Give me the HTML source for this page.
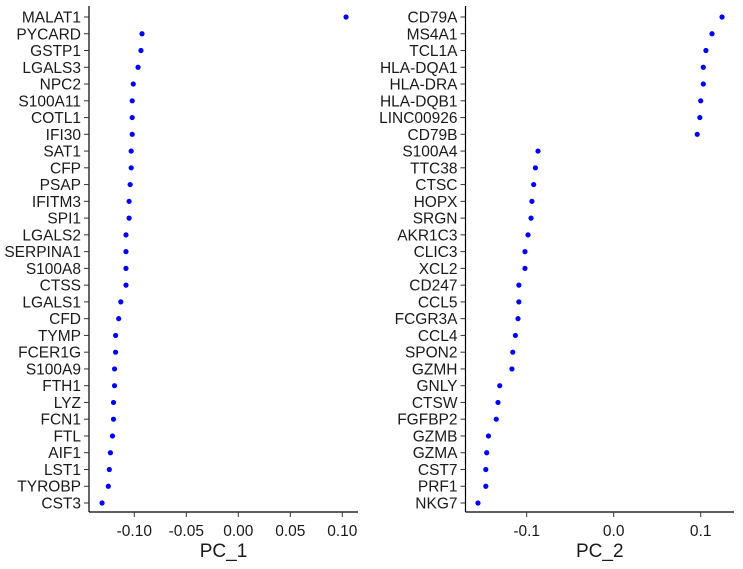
<!DOCTYPE html>
<html><head><meta charset="utf-8"><style>
body{margin:0;background:#fff}
svg text{font-family:"Liberation Sans",Arial,sans-serif;fill:#1a1a1a}
</style></head><body>
<svg id="chart" width="743" height="564" xmlns="http://www.w3.org/2000/svg"></svg>
<script>
const genes1=["MALAT1","PYCARD","GSTP1","LGALS3","NPC2","S100A11","COTL1","IFI30","SAT1","CFP","PSAP","IFITM3","SPI1","LGALS2","SERPINA1","S100A8","CTSS","LGALS1","CFD","TYMP","FCER1G","S100A9","FTH1","LYZ","FCN1","FTL","AIF1","LST1","TYROBP","CST3"];
const vals1=[0.1036,-0.0926,-0.0936,-0.0964,-0.101,-0.102,-0.102,-0.102,-0.103,-0.103,-0.104,-0.105,-0.105,-0.108,-0.108,-0.108,-0.108,-0.113,-0.115,-0.118,-0.118,-0.119,-0.119,-0.120,-0.120,-0.121,-0.123,-0.124,-0.125,-0.131];
const ticks1=[-0.10,-0.05,0.00,0.05,0.10];
const tickLabels1=["-0.10","-0.05","0.00","0.05","0.10"];
const genes2=["CD79A","MS4A1","TCL1A","HLA-DQA1","HLA-DRA","HLA-DQB1","LINC00926","CD79B","S100A4","TTC38","CTSC","HOPX","SRGN","AKR1C3","CLIC3","XCL2","CD247","CCL5","FCGR3A","CCL4","SPON2","GZMH","GNLY","CTSW","FGFBP2","GZMB","GZMA","CST7","PRF1","NKG7"];
const vals2=[0.1245,0.113,0.106,0.103,0.103,0.100,0.099,0.096,-0.087,-0.090,-0.092,-0.094,-0.095,-0.0985,-0.102,-0.102,-0.109,-0.109,-0.110,-0.113,-0.116,-0.117,-0.131,-0.133,-0.135,-0.144,-0.146,-0.147,-0.147,-0.156];
const ticks2=[-0.1,0.0,0.1];
const tickLabels2=["-0.1","0.0","0.1"];

const NS="http://www.w3.org/2000/svg";
const svg=document.getElementById('chart');
function mk(tag,attrs,parent){const e=document.createElementNS(NS,tag);for(const k in attrs)e.setAttribute(k,attrs[k]);(parent||svg).appendChild(e);return e;}

function panel(idx,genes,vals,ticks,labels,axX,right,zeroPx,scale,title){
  const g=mk('g',{});
  
  
  const top=6,bottom=512,y0=17,step=(503-17)/29;
  const xs=v=>zeroPx+v*scale;
  const ys=i=>y0+i*step;
  const yl=mk('line',{x1:axX,x2:axX,y1:top,y2:bottom,stroke:'#000','stroke-width':1.2},g);
  
  
  const xl=mk('line',{x1:axX,x2:right,y1:bottom,y2:bottom,stroke:'#000','stroke-width':1.2},g);
  
  
  genes.forEach((gn,i)=>{
    const y=ys(i);
    mk('line',{x1:axX-5,x2:axX,y1:y,y2:y,stroke:'#333','stroke-width':1},g);
    const t=mk('text',{x:axX-8,y:y+5.5,'text-anchor':'end','font-size':15.5},g);
    t.textContent=gn;
    
    
    const c=mk('circle',{cx:xs(vals[i]),cy:y,r:2.6,fill:'#0000ff'},g);
    
    
  });
  ticks.forEach((tv,i)=>{
    const x=xs(tv);
    mk('line',{x1:x,x2:x,y1:bottom,y2:bottom+5,stroke:'#333','stroke-width':1},g);
    const t=mk('text',{x:x,y:bottom+24,'text-anchor':'middle','font-size':15.5},g);
    t.textContent=labels[i];
    
    
  });
  const tt=mk('text',{x:(axX+right)/2,y:557,'text-anchor':'middle','font-size':19},g);
  tt.textContent=title;
  
  
}
panel(1,genes1,vals1,ticks1,tickLabels1,89,358,238.3,1040,"PC_1");
panel(2,genes2,vals2,ticks2,tickLabels2,465.5,734,613.7,870,"PC_2");
</script>
</body></html>
